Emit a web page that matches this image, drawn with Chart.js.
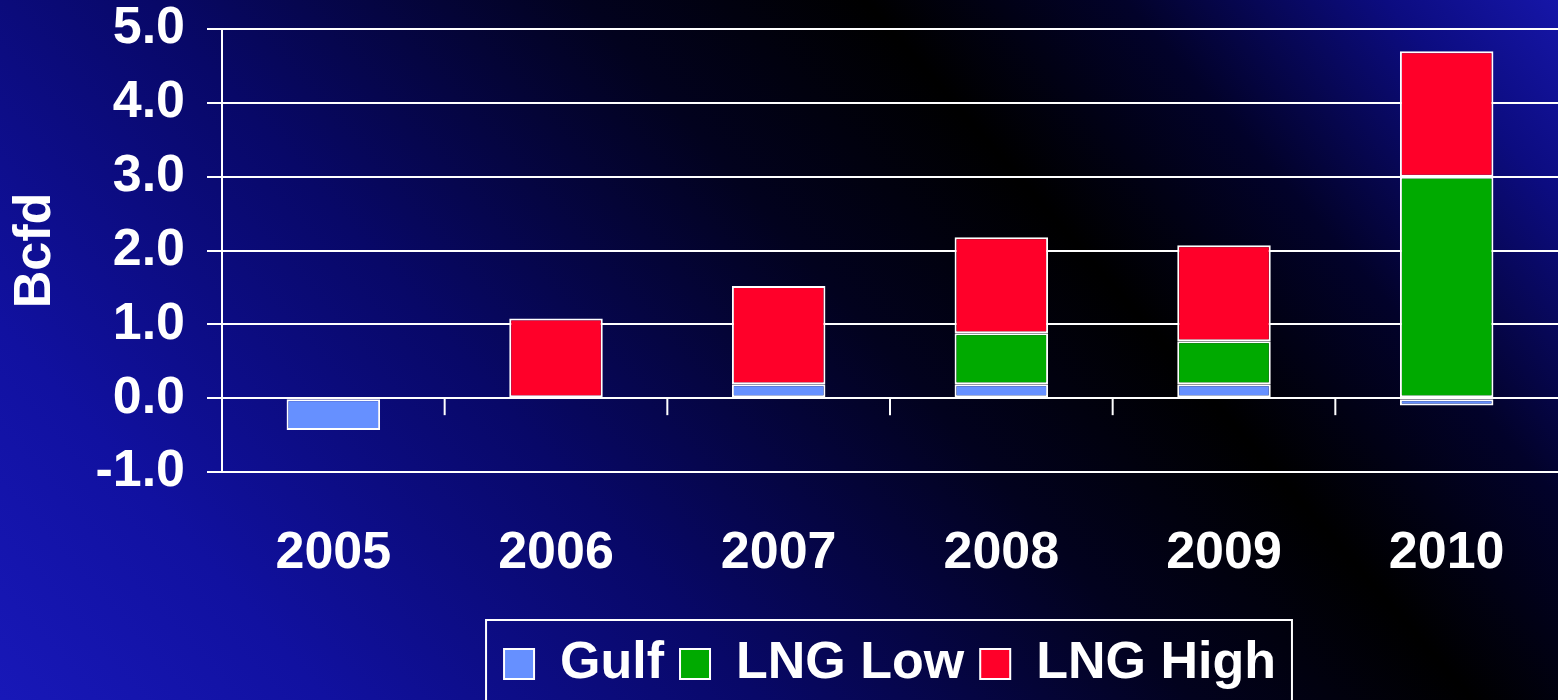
<!DOCTYPE html>
<html>
<head>
<meta charset="utf-8">
<script src="https://cdn.jsdelivr.net/npm/chart.js@4.4.1/dist/chart.umd.min.js"></script>
<style>
  html, body { margin: 0; padding: 0; }
  body {
    width: 1558px; height: 700px; overflow: hidden;
    background: linear-gradient(49deg, #1818b8 0%, #1111a0 15%, #080868 35%, #02021e 55%, #000 68%, #02022a 80%, #0c0c80 92%, #1616a8 100%);
  }
  #wrap { position: relative; width: 1558px; height: 700px; }
</style>
</head>
<body>
<div id="wrap"><canvas id="chart"></canvas></div>
<script>
const years = ['2005', '2006', '2007', '2008', '2009', '2010'];
const gulf = [-0.43, 0, 0.19, 0.19, 0.19, -0.1];
const lngLow = [0, 0, 0, 0.69, 0.58, 3.0];
const lngHigh = [0, 1.08, 1.33, 1.3, 1.3, 1.7];
const yTicks = [-1, 0, 1, 2, 3, 4, 5];

const FONT = '"Liberation Sans", Arial, sans-serif';

// little ticks on the zero line between categories + white box round the legend
const extras = {
  id: 'extras',
  afterDatasetsDraw(chart) {
    const { ctx, scales: { x, y } } = chart;
    const y0 = y.getPixelForValue(0);
    ctx.save();
    ctx.strokeStyle = '#fff';
    ctx.lineWidth = 2;
    for (let i = 0; i < years.length - 1; i++) {
      const bx = (x.getPixelForTick(i) + x.getPixelForTick(i + 1)) / 2;
      ctx.beginPath();
      ctx.moveTo(bx, y0);
      ctx.lineTo(bx, y0 + 17);
      ctx.stroke();
    }
    ctx.restore();
  },
  afterDraw(chart) {
    const lg = chart.legend;
    if (!lg || !lg.legendHitBoxes.length) return;
    const boxes = lg.legendHitBoxes;
    const left = Math.min(...boxes.map(b => b.left)) - 18;
    const right = Math.max(...boxes.map(b => b.left + b.width)) + 16;
    const { ctx } = chart;
    ctx.save();
    ctx.strokeStyle = '#fff';
    ctx.lineWidth = 2;
    ctx.strokeRect(left, lg.top - 2, right - left, 120);
    ctx.restore();
  }
};

new Chart(document.getElementById('chart'), {
  type: 'bar',
  data: {
    labels: years,
    datasets: [
      { label: 'Gulf', data: gulf, backgroundColor: '#6690ff' },
      { label: 'LNG Low', data: lngLow, backgroundColor: '#00aa00' },
      { label: 'LNG High', data: lngHigh, backgroundColor: '#ff0029' },
    ],
  },
  options: {
    responsive: true,
    maintainAspectRatio: false,
    animation: false,
    layout: { padding: { top: 29, left: 0, right: 0, bottom: 0 } },
    datasets: {
      bar: {
        borderColor: '#fff',
        borderWidth: 2,
        borderSkipped: false,
        categoryPercentage: 1,
        barPercentage: 0.42,
      },
    },
    plugins: {
      tooltip: { enabled: false },
      legend: {
        position: 'bottom',
        fullSize: false,
        labels: {
          color: '#fff',
          font: { family: FONT, size: 52, weight: 'bold' },
          boxWidth: 30,
          boxHeight: 30,
          padding: 16,
          useBorderRadius: false,
        },
      },
    },
    scales: {
      x: {
        stacked: true,
        grid: { display: false, drawTicks: false, tickLength: 0 },
        border: { display: true, color: '#fff', width: 2 },
        ticks: {
          color: '#fff',
          padding: 50,
          font: { family: FONT, size: 52, weight: 'bold' },
        },
        afterFit(scale) { scale.height = 150; },
      },
      y: {
        stacked: true,
        min: -1,
        max: 5,
        afterBuildTicks(scale) { scale.ticks = yTicks.map(v => ({ value: v })); },
        grid: { color: '#fff', lineWidth: 2, tickLength: 15, tickColor: '#fff' },
        border: { display: true, color: '#fff', width: 2 },
        ticks: {
          color: '#fff',
          padding: 22,
          font: { family: FONT, size: 52, weight: 'bold' },
          callback: v => v.toFixed(1),
        },
        title: {
          display: true,
          text: 'Bcfd',
          color: '#fff',
          padding: { top: 4, bottom: 0 },
          font: { family: FONT, size: 52, weight: 'bold' },
        },
        afterFit(scale) {
          scale.width = 222;
          scale.paddingTop = 0;
          scale.paddingBottom = 0;
        },
      },
    },
  },
  plugins: [extras],
});
</script>
</body>
</html>
